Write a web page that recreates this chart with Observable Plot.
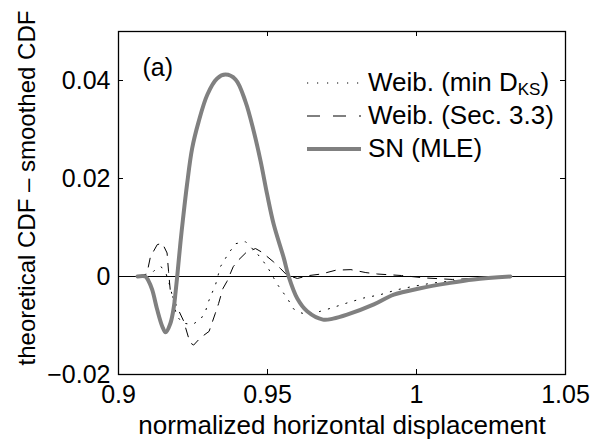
<!DOCTYPE html>
<html>
<head>
<meta charset="utf-8">
<script src="https://cdn.jsdelivr.net/npm/d3@7"></script>
<script src="https://cdn.jsdelivr.net/npm/@observablehq/plot@0.6"></script>
<style>
  html, body { margin: 0; padding: 0; background: #fff; }
  #wrap { position: relative; width: 601px; height: 444px; font-family: "Liberation Sans", Arial, Helvetica, sans-serif; }
  #legend { position: absolute; left: 305px; top: 66px; font-size: 26px; color: #000; }
  #legend .row { display: flex; align-items: center; height: 33px; white-space: nowrap; }
  #legend svg { width: 58px; height: 12px; margin-right: 5px; }
  #legend sub { font-size: 17px; vertical-align: -4px; line-height: 0; }
</style>
</head>
<body>
<div id="wrap"><div id="chart"></div>
  <div id="legend">
    <div class="row"><svg><line x1="2" x2="56" y1="6" y2="6" stroke="#000" stroke-width="1" stroke-dasharray="1.2,8.8"/></svg><span>Weib. (min D<sub>KS</sub>)</span></div>
    <div class="row"><svg><line x1="2" x2="56" y1="6" y2="6" stroke="#000" stroke-width="1" stroke-dasharray="13,13"/></svg><span>Weib. (Sec. 3.3)</span></div>
    <div class="row"><svg><line x1="2" x2="56" y1="6" y2="6" stroke="#808080" stroke-width="4"/></svg><span>SN (MLE)</span></div>
  </div>
</div>
<script>
// ---- data ----
const xTicks = [0.9, 0.95, 1, 1.05];
const yTicks = [-0.02, 0, 0.02, 0.04];
const xLabel = "normalized horizontal displacement";
const yLabel = "theoretical CDF \u2013 smoothed CDF";
const panelLabel = "(a)";

// SN (MLE)
const snX = [0.9064,0.9090,0.9100,0.9113,0.9130,0.9147,0.9158,0.9174,0.9186,0.9191,0.9197,0.9208,0.9216,0.9230,0.9247,0.9269,0.9298,0.9331,0.9359,0.9393,0.9426,0.9454,0.9477,0.9499,0.9521,0.9555,0.9571,0.9600,0.9633,0.9686,0.9720,0.9767,0.9857,0.9924,1.0013,1.0103,1.0192,1.0315];
const snY = [0,0,-0.0008,-0.0027,-0.0068,-0.0102,-0.0114,-0.0096,-0.0061,-0.0035,0,0.0070,0.0115,0.0188,0.0261,0.0316,0.0371,0.0404,0.0412,0.0402,0.0357,0.0296,0.0235,0.0167,0.0106,0.0037,0,-0.0045,-0.0071,-0.0088,-0.0086,-0.0078,-0.0057,-0.0037,-0.0024,-0.0014,-0.0006,0];

// Weib. (min D_KS)
const ksX = [0.9063,0.9100,0.9125,0.9143,0.9160,0.9174,0.9195,0.9215,0.9248,0.9275,0.9292,0.9302,0.9326,0.9342,0.9369,0.9393,0.9426,0.9465,0.9487,0.9503,0.9533,0.9567,0.9587,0.9616,0.9650,0.9678,0.9711,0.9767,0.9822,0.9879,0.9935,0.9990,1.0047,1.0103,1.0170,1.0237,1.0315];
const ksY = [0,0,0.0015,0.0020,0.0005,-0.0022,-0.0080,-0.0095,-0.0098,-0.0088,-0.0071,-0.0051,-0.0016,0.0020,0.0047,0.0067,0.0071,0.0047,0.0030,0.0016,-0.0016,-0.0045,-0.0066,-0.0075,-0.0075,-0.0071,-0.0065,-0.0054,-0.0044,-0.0037,-0.0027,-0.0020,-0.0014,-0.0010,-0.0006,-0.0004,0];

// Weib. (Sec. 3.3)
const secX = [0.9063,0.9095,0.9107,0.9130,0.9147,0.9163,0.9168,0.9174,0.9197,0.9218,0.9240,0.9252,0.9275,0.9304,0.9325,0.9336,0.9350,0.9364,0.9385,0.9405,0.9430,0.9460,0.9480,0.9520,0.9544,0.9565,0.9600,0.9640,0.9680,0.9730,0.9780,0.9830,0.9870,0.9950,1.0030,1.0120,1.0200,1.0260,1.0315];
const secY = [0,0.0005,0.0040,0.0065,0.0068,0.0048,0.0010,-0.0030,-0.0063,-0.0090,-0.0135,-0.0140,-0.0125,-0.0112,-0.0075,-0.0055,-0.0025,-0.0010,0.0020,0.0035,0.0050,0.0057,0.0050,0.0030,0.0016,0.0003,-0.0004,0.0002,0.0005,0.0013,0.0014,0.0008,0.0005,0.0002,-0.0003,-0.0006,-0.0004,-0.0002,0];

// ---- layout ----
const W = 601, H = 444, mL = 118, mR = 36, mT = 31, mB = 70;
const pw = W - mL - mR, ph = H - mT - mB, tickLen = 5;
const FONT = "'Liberation Sans', Arial, Helvetica, sans-serif";

const zip = (xs, ys) => xs.map((x, i) => ({x, y: ys[i]}));
const sn = zip(snX, snY), ks = zip(ksX, ksY), sec = zip(secX, secY);

const fmtX = d => String(+d.toFixed(2));
const fmtY = d => d === 0 ? "0" : d3.format(".2f")(d).replace("-", "\u2212");

const chart = Plot.plot({
  width: W, height: H,
  marginLeft: mL, marginRight: mR, marginTop: mT, marginBottom: mB,
  style: {fontFamily: FONT, background: "white", color: "black", overflow: "visible"},
  x: {domain: [0.9, 1.05]},
  y: {domain: [-0.02, 0.05]},
  marks: [
    Plot.ruleY([0], {stroke: "black", strokeWidth: 1}),
    Plot.line(ks, {x: "x", y: "y", stroke: "black", strokeWidth: 1, strokeDasharray: "1.2,8"}),
    Plot.line(sec, {x: "x", y: "y", stroke: "black", strokeWidth: 1, strokeDasharray: "9,8"}),
    Plot.line(sn, {x: "x", y: "y", stroke: "#808080", strokeWidth: 4, curve: "catmull-rom"}),
    Plot.frame({stroke: "black", strokeWidth: 1.3}),
    Plot.tickX(xTicks, {x: d => d, insetTop: ph - tickLen, stroke: "black"}),
    Plot.tickX(xTicks, {x: d => d, insetBottom: ph - tickLen, stroke: "black"}),
    Plot.tickY(yTicks, {y: d => d, insetRight: pw - tickLen, stroke: "black"}),
    Plot.tickY(yTicks, {y: d => d, insetLeft: pw - tickLen, stroke: "black"}),
    Plot.axisX(xTicks, {tickSize: 0, tickPadding: 11, tickFormat: fmtX, fontSize: 25, label: null}),
    Plot.axisY(yTicks, {tickSize: 0, tickPadding: 8, tickFormat: fmtY, fontSize: 25, label: null}),
    Plot.text([xLabel], {text: d => d, frameAnchor: "bottom", lineAnchor: "middle", textAnchor: "middle", dy: 51, fontSize: 26}),
    Plot.text([yLabel], {text: d => d, frameAnchor: "left", textAnchor: "middle", lineAnchor: "middle", rotate: -90, dx: -91, dy: -15, fontSize: 24}),
    Plot.text([panelLabel], {text: d => d, frameAnchor: "top-left", textAnchor: "start", lineAnchor: "middle", dx: 24, dy: 36, fontSize: 25})
  ]
});
document.getElementById("chart").appendChild(chart);
</script>
</body>
</html>
